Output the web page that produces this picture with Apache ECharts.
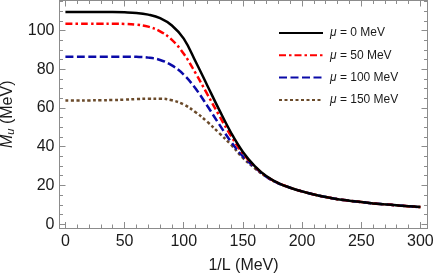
<!DOCTYPE html>
<html><head><meta charset="utf-8">
<script src="https://cdn.jsdelivr.net/npm/echarts@6/dist/echarts.min.js"></script>
<style>html,body{margin:0;padding:0;background:#fff}#c{width:436px;height:278px}</style>
</head><body><div id="c"></div>
<script>
const xValues = [0,10,20,30,40,50,60,70,80,90,100,110,120,130,140,150,160,170,180,190,200,210,220,230,240,250,260,270,280,290,300];
const mu0   = [109.5,109.5,109.5,109.5,109.5,109.4,109.1,108.2,106.4,102.6,95.8,84,71.5,59,47.2,37.3,30,24.7,21.2,18.8,16.9,15.3,14,12.9,12.1,11.4,10.7,10.2,9.7,9.2,8.8];
const mu50  = [103.5,103.5,103.5,103.5,103.5,103.4,103,102,99.6,95.2,88,78,67,56,45.5,36.5,29.8,24.6,21.2,18.8,16.9,15.3,14,12.9,12.1,11.4,10.7,10.2,9.7,9.2,8.8];
const mu100 = [86.5,86.5,86.5,86.5,86.5,86.5,86.4,86,84.8,82,77.2,70,61,51.5,42.5,35,29.3,24.4,21.1,18.8,16.9,15.3,14,12.9,12.1,11.4,10.7,10.2,9.7,9.2,8.8];
const mu150 = [63.8,63.8,63.9,64,64.1,64.3,64.6,64.8,64.8,64,61.8,57.8,52.8,47,41,34.2,28.9,24.3,21,18.8,16.9,15.3,14,12.9,12.1,11.4,10.7,10.2,9.7,9.2,8.8];
const seriesNames = ['μ = 0 MeV','μ = 50 MeV','μ = 100 MeV','μ = 150 MeV'];
const xMajor = [0,50,100,150,200,250,300];
const xMinor = [0,10,20,30,40,50,60,70,80,90,100,110,120,130,140,150,160,170,180,190,200,210,220,230,240,250,260,270,280,290,300];
const yMajor = [0,20,40,60,80,100];
const yMinor = [0,5,10,15,20,25,30,35,40,45,50,55,60,65,70,75,80,85,90,95,100,105,110,115];
const xTitle = '1/L (MeV)';

const pair = arr => xValues.map((x,i)=>[x,arr[i]]);
const AX = '#8c8c8c';
const FF = '"Liberation Sans", Arial, sans-serif';
const XMIN=-5, XMAX=306, YMIN=-2, YMAX=115.5;
function xAx(pos, vals, len, labels, extra){
  return Object.assign({type:'value', position:pos, min:XMIN, max:XMAX,
    axisLine:{show:true, onZero:false, lineStyle:{color:AX,width:1}},
    axisTick:{show:true, inside:true, length:len, customValues:vals, lineStyle:{color:AX,width:1}},
    axisLabel:labels?{show:true, customValues:vals, fontSize:16, fontFamily:FF, color:'#1a1a1a', margin:6}:{show:false},
    splitLine:{show:false}}, extra||{});
}
function yAx(pos, vals, len, labels, extra){
  return Object.assign({type:'value', position:pos, min:YMIN, max:YMAX,
    axisLine:{show:true, onZero:false, lineStyle:{color:AX,width:1}},
    axisTick:{show:true, inside:true, length:len, customValues:vals, lineStyle:{color:AX,width:1}},
    axisLabel:labels?{show:true, customValues:vals, fontSize:16, fontFamily:FF, color:'#1a1a1a', margin:5}:{show:false},
    splitLine:{show:false}}, extra||{});
}
const chart = echarts.init(document.getElementById('c'), null, {renderer:'canvas'});
const styles = [
  {color:'#000000', type:'solid'},
  {color:'#ff0000', type:[7,3,2.5,3]},
  {color:'#0a0aa8', type:[8,3.5]},
  {color:'#6a4a2a', type:[3,2.5]}
];
const datas = [mu0, mu50, mu100, mu150];
chart.setOption({
  animation:false,
  backgroundColor:'#fff',
  grid:{left:59.5, right:8.5, top:0.5, bottom:50, containLabel:false, outerBoundsMode:'none'},
  legend:{orient:'vertical', left:273, top:22, itemWidth:44, itemHeight:14, itemGap:10.3,
    data:seriesNames,
    itemStyle:{color:'rgba(0,0,0,0)', borderWidth:0, opacity:0},
    formatter: n => '{i|μ}' + n.slice(1),
    textStyle:{fontSize:12, fontFamily:FF, color:'#1a1a1a', padding:[0,0,0,2],
      rich:{i:{fontStyle:'italic', fontSize:12, fontFamily:FF, color:'#1a1a1a'}}}},
  xAxis:[
    xAx('bottom', xMajor, 6, true, {name:xTitle, nameLocation:'middle', nameGap:30,
      nameTextStyle:{fontSize:16, fontFamily:FF, color:'#1a1a1a'}}),
    xAx('bottom', xMinor, 3.5, false),
    xAx('top', xMajor, 6, false),
    xAx('top', xMinor, 3.5, false)
  ],
  yAxis:[
    yAx('left', yMajor, 6, true, {name:'{m|M}{s|u} (MeV)', nameLocation:'middle', nameGap:40, nameRotate:90,
      nameTextStyle:{fontSize:16, fontFamily:FF, color:'#1a1a1a',
        rich:{m:{fontStyle:'italic', fontSize:16, fontFamily:FF, color:'#1a1a1a'},
              s:{fontStyle:'italic', fontSize:11, fontFamily:FF, color:'#1a1a1a', padding:[7,0,0,0]}}}}),
    yAx('left', yMinor, 3.5, false),
    yAx('right', yMajor, 6, false),
    yAx('right', yMinor, 3.5, false)
  ],
  series: datas.map((d,i)=>({
    name:seriesNames[i], type:'line', xAxisIndex:0, yAxisIndex:0,
    data:pair(d), smooth:0.4, showSymbol:false, symbol:'none',
    lineStyle:{color:styles[i].color, width:2.5, type:styles[i].type},
    itemStyle:{color:styles[i].color}, z:10-i
  }))
});
</script></body></html>
